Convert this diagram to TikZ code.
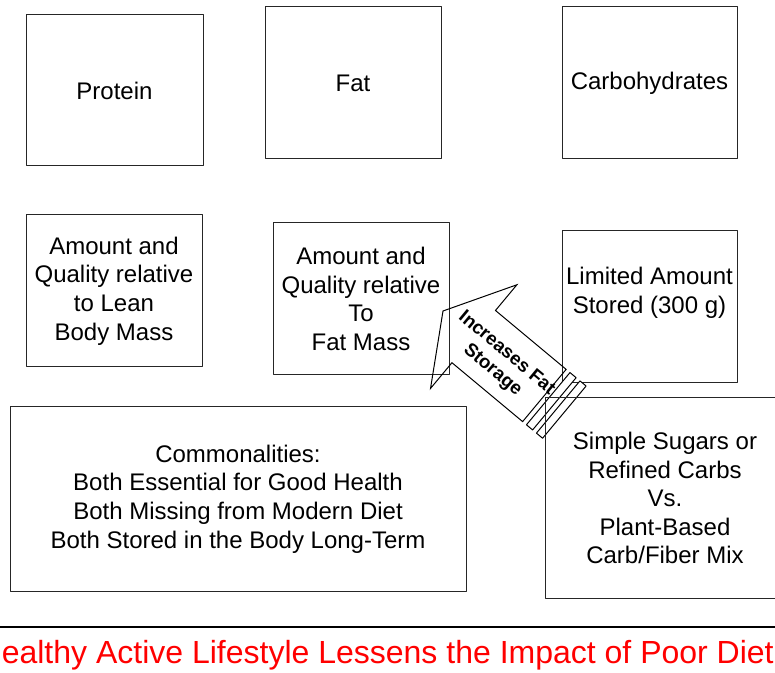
\documentclass[tikz,border=0pt]{standalone}
\usepackage{fontspec}
\setmainfont{Liberation Sans}
\usetikzlibrary{calc}

\tikzset{
    box/.style={draw=black!85, line width=0.75pt, align=center, inner sep=0pt,
                font=\fontsize{18}{21.4}\selectfont},
    boxsize/.style 2 args={minimum width=#1*0.75pt, minimum height=#2*0.75pt},
    txt/.style={align=center, inner sep=0pt, font=\fontsize{18}{21.4}\selectfont},
}

\begin{document}
\begin{tikzpicture}[x=0.75pt, y=-0.75pt, line join=round, line cap=round]
        \useasboundingbox (0, 0) rectangle (775, 673);
        % top row: the three nutrients
        \node[box, boxsize={177}{151}] (protein) at (114.5, 90.5) {Protein};
        \node[box, boxsize={176}{152}] (fat)     at (353, 83)     {Fat};
        \node[box, boxsize={175}{152}] (carbs)   at (649.5, 83)   {Carbohydrates};
        % middle row
        \node[box, boxsize={176}{152}] (lean)    at (114, 291)
            {Amount and\\Quality relative\\to Lean\\Body Mass};
        \node[box, boxsize={176}{152}] (fatmass) at (361, 299)
            {Amount and\\Quality relative\\To\\Fat Mass};
        \node[box, boxsize={175}{152}] (limited) at (649.5, 307) {};
        \node[txt] (limtxt) at (649.5, 293) {Limited Amount\\Stored (300 g)};
        \node[box, boxsize={456}{184}] (common)  at (238, 499)
            {Commonalities:\\Both Essential for Good Health\\Both Missing from Modern Diet\\Both Stored in the Body Long-Term};
        % striped block arrow, drawn in its own tilted frame
        \begin{scope}[shift={(443, 311)}, x={(0.576pt, -0.48pt)}, y={(0.48pt, 0.576pt)}]
            \draw[line width=0.75pt, line join=miter]
                (0, 0) -- (40, 67.5) -- (40, 34) -- (132, 34) -- (132, -34)
                -- (40, -34) -- (40, -67.5) -- cycle;
            \foreach \u in {137, 150}
                \draw[line width=0.75pt, fill=white]
                    (\u, -34) -- (\u+8, -34) -- (\u+8, 34) -- (\u, 34) -- cycle;
            \coordinate (incrpos) at (76, -3);
        \end{scope}
        \node[box, boxsize={240}{200}] (simple)  at (665, 498)
            {Simple Sugars or\\Refined Carbs\\Vs.\\Plant-Based\\Carb/Fiber Mix};
        \node[align=center, inner sep=0pt, rotate=-39.8,
              font=\bfseries\fontsize{14}{16.5}\selectfont] (incr) at (incrpos)
            {Increases Fat\\Storage};
        % bottom rule and motto
        \coordinate (rulel) at (0, 627);
        \coordinate (ruler) at (775, 627);
        \draw[line width=1.2pt] (rulel) -- (ruler);
        \node[anchor=base east, inner sep=0pt, text=red,
              font=\fontsize{24}{28}\selectfont] (motto) at (774, 663)
            {Healthy Active Lifestyle Lessens the Impact of Poor Diet};
    \end{tikzpicture}
\end{document}
